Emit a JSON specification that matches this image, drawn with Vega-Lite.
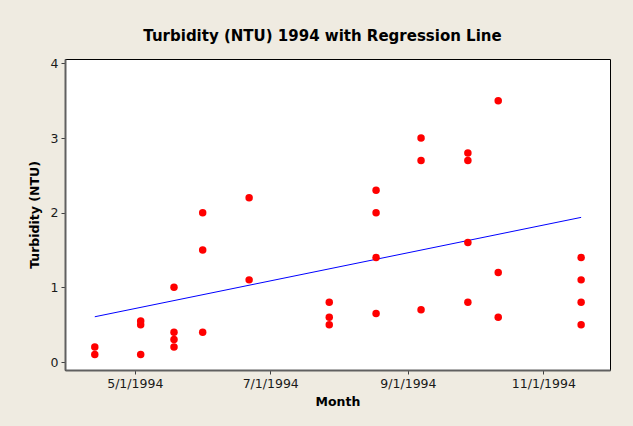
{
  "$schema": "https://vega.github.io/schema/vega-lite/v6.json",
  "width": 545,
  "height": 311,
  "autosize": {"type": "none"},
  "padding": {"left": 65, "top": 59, "right": 23, "bottom": 56},
  "background": "#efebe1",
  "config": {
    "view": {"stroke": "#000000", "strokeWidth": 1, "fill": "#ffffff"},
    "font": "DejaVu Sans",
    "axis": {
      "labelFont": "DejaVu Sans",
      "labelFontSize": 12.5,
      "labelColor": "#1a1a1a",
      "titleFont": "DejaVu Sans",
      "titleFontSize": 12.5,
      "titleFontWeight": "bold",
      "titleColor": "#000000",
      "domainColor": "#606060",
      "domainWidth": 2,
      "tickColor": "#404040",
      "tickSize": 4,
      "tickWidth": 1,
      "grid": false,
      "labelPadding": 3
    }
  },
  "title": {
    "text": "Turbidity (NTU) 1994 with Regression Line",
    "font": "DejaVu Sans",
    "fontSize": 15,
    "fontWeight": "bold",
    "color": "#000000",
    "anchor": "middle",
    "dx": -15,
    "offset": 13
  },
  "datasets": {
    "obs": [
      {"date": "1994-04-13T00:00:00", "ntu": 0.2},
      {"date": "1994-04-13T00:00:00", "ntu": 0.1},
      {"date": "1994-05-03T16:00:00", "ntu": 0.55},
      {"date": "1994-05-03T16:00:00", "ntu": 0.5},
      {"date": "1994-05-03T16:00:00", "ntu": 0.1},
      {"date": "1994-05-18T16:00:00", "ntu": 1.0},
      {"date": "1994-05-18T16:00:00", "ntu": 0.4},
      {"date": "1994-05-18T16:00:00", "ntu": 0.3},
      {"date": "1994-05-18T16:00:00", "ntu": 0.2},
      {"date": "1994-05-31T14:00:00", "ntu": 2.0},
      {"date": "1994-05-31T14:00:00", "ntu": 1.5},
      {"date": "1994-05-31T14:00:00", "ntu": 0.4},
      {"date": "1994-06-21T12:00:00", "ntu": 2.2},
      {"date": "1994-06-21T12:00:00", "ntu": 1.1},
      {"date": "1994-07-27T14:00:00", "ntu": 0.8},
      {"date": "1994-07-27T14:00:00", "ntu": 0.6},
      {"date": "1994-07-27T14:00:00", "ntu": 0.5},
      {"date": "1994-08-17T16:00:00", "ntu": 2.3},
      {"date": "1994-08-17T16:00:00", "ntu": 2.0},
      {"date": "1994-08-17T16:00:00", "ntu": 1.4},
      {"date": "1994-08-17T16:00:00", "ntu": 0.65},
      {"date": "1994-09-06T22:00:00", "ntu": 3.0},
      {"date": "1994-09-06T22:00:00", "ntu": 2.7},
      {"date": "1994-09-06T22:00:00", "ntu": 0.7},
      {"date": "1994-09-28T00:00:00", "ntu": 2.8},
      {"date": "1994-09-28T00:00:00", "ntu": 2.7},
      {"date": "1994-09-28T00:00:00", "ntu": 1.6},
      {"date": "1994-09-28T00:00:00", "ntu": 0.8},
      {"date": "1994-10-11T16:00:00", "ntu": 3.5},
      {"date": "1994-10-11T16:00:00", "ntu": 1.2},
      {"date": "1994-10-11T16:00:00", "ntu": 0.6},
      {"date": "1994-11-18T00:00:00", "ntu": 1.4},
      {"date": "1994-11-18T00:00:00", "ntu": 1.1},
      {"date": "1994-11-18T00:00:00", "ntu": 0.8},
      {"date": "1994-11-18T00:00:00", "ntu": 0.5}
    ],
    "fit": [
      {"date": "1994-04-13T00:00:00", "ntu": 0.606},
      {"date": "1994-11-18T00:00:00", "ntu": 1.937}
    ]
  },
  "encoding": {
    "x": {
      "field": "date",
      "type": "temporal",
      "title": "Month",
      "scale": {
        "domain": [
          {"year": 1994, "month": "mar", "date": 30, "hours": 14},
          {"year": 1994, "month": "dec", "date": 1}
        ],
        "nice": false
      },
      "axis": {
        "values": [
          {"year": 1994, "month": "may", "date": 1},
          {"year": 1994, "month": "jul", "date": 1},
          {"year": 1994, "month": "sep", "date": 1},
          {"year": 1994, "month": "nov", "date": 1}
        ],
        "format": "%-m/%-d/%Y",
        "titlePadding": 6
      }
    },
    "y": {
      "field": "ntu",
      "type": "quantitative",
      "title": "Turbidity (NTU)",
      "scale": {"domain": [-0.107, 4.058], "nice": false, "zero": false},
      "axis": {"values": [0, 1, 2, 3, 4], "titlePadding": 9}
    }
  },
  "layer": [
    {
      "data": {"name": "fit"},
      "mark": {"type": "line", "color": "#0000ff", "strokeWidth": 1}
    },
    {
      "data": {"name": "obs"},
      "mark": {"type": "circle", "color": "#ff0000", "opacity": 1, "size": 56}
    }
  ]
}
